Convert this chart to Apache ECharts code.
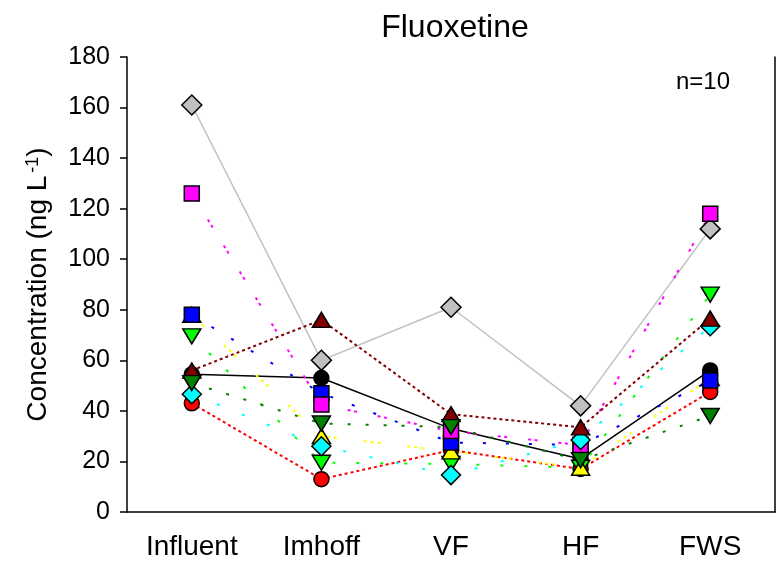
<!DOCTYPE html>
<html>
<head>
<meta charset="utf-8">
<script src="https://cdn.jsdelivr.net/npm/echarts@6/dist/echarts.min.js"></script>
<style>
  html, body { margin: 0; padding: 0; background: #ffffff; }
  #chart { width: 776px; height: 566px; }
</style>
</head>
<body>
<div id="chart"></div>
<script>
// Treatment stages along the system
const stages = ['Influent', 'Imhoff', 'VF', 'HF', 'FWS'];
const yTicks = [0, 20, 40, 60, 80, 100, 120, 140, 160, 180];

// Fluoxetine concentrations (ng/L), one array per sampling campaign
const campaignGray      = [161, 60, 81, 42, 112];
const campaignBlack     = [54.5, 53, 33, 21, 56];
const campaignRed       = [43, 13, 24.5, 17, 47.5];
const campaignLime      = [69.5, 19.5, 19, 17.5, 86];
const campaignYellow    = [78, 30, 24, 17.5, 53];
const campaignBlue      = [78, 47, 27.5, 26.5, 52];
const campaignMagenta   = [126, 42.5, 32, 26.5, 118];
const campaignCyan      = [46.6, 26, 14.6, 28.5, 73.5];
const campaignDarkRed   = [56, 76, 38.7, 33.5, 76.5];
const campaignDarkGreen = [51, 35, 33.6, 20.5, 38];

const FONT = '"Liberation Sans", Arial, Helvetica, sans-serif';

function mk(data, color, symbol, size, rotate, lineType, lineWidth) {
  return {
    type: 'line',
    data: data,
    symbol: symbol,
    symbolSize: size,
    symbolRotate: rotate,
    showAllSymbol: true,
    animation: false,
    itemStyle: { color: color, borderColor: '#000000', borderWidth: 1.5 },
    lineStyle: { color: color, width: lineWidth, type: lineType, cap: 'butt' },
    emphasis: { disabled: true }
  };
}

// later entries are drawn on top of earlier ones
const series = [
  mk(campaignGray,      '#C0C0C0', 'diamond',  [20, 20], 0,   'solid',             1.5),
  mk(campaignBlack,     '#000000', 'circle',   [15, 15], 0,   'solid',             1.5),
  mk(campaignRed,       '#FF0000', 'circle',   [15, 15], 0,   [3, 3],              2),
  mk(campaignLime,      '#00FF00', 'triangle', [18, 15], 180, [3, 21],             2),
  mk(campaignYellow,    '#FFFF00', 'triangle', [18, 15], 0,   [3, 4, 3, 4, 3, 27], 2),
  mk(campaignBlue,      '#0000FF', 'rect',     [15, 15], 0,   [3, 20],             2),
  mk(campaignMagenta,   '#FF00FF', 'rect',     [15, 15], 0,   [3, 3.5, 3, 21],     2),
  mk(campaignCyan,      '#00FFFF', 'diamond',  [19, 19], 0,   [3, 24],             2),
  mk(campaignDarkRed,   '#800000', 'triangle', [18, 15], 0,   [3, 3],              2),
  mk(campaignDarkGreen, '#008000', 'triangle', [18, 15], 180, [3, 15],             2)
];

const chart = echarts.init(document.getElementById('chart'), null, { renderer: 'canvas' });
chart.setOption({
  backgroundColor: '#ffffff',
  animation: false,
  title: {
    text: 'Fluoxetine',
    left: 450,
    top: 7,
    textAlign: 'center',
    textStyle: { fontFamily: FONT, fontSize: 32, fontWeight: 'normal', color: '#000000' }
  },
  grid: { left: 127, right: 1, top: 57, bottom: 54, containLabel: false },
  xAxis: {
    type: 'category',
    data: stages,
    boundaryGap: true,
    axisLine: { lineStyle: { color: '#000000', width: 1.5 } },
    axisTick: { alignWithLabel: true, length: 7, lineStyle: { color: '#000000', width: 1.5 } },
    axisLabel: { color: '#000000', fontFamily: FONT, fontSize: 28, margin: 21 },
    splitLine: { show: false }
  },
  yAxis: [{
    type: 'value',
    min: yTicks[0],
    max: yTicks[yTicks.length - 1],
    interval: 20,
    axisLine: { show: true, lineStyle: { color: '#000000', width: 1.5 } },
    axisTick: { show: true, length: 7, lineStyle: { color: '#000000', width: 1.5 } },
    axisLabel: { color: '#000000', fontFamily: FONT, fontSize: 25, margin: 17 },
    splitLine: { show: false },
    name: '{a|Concentration (ng L}{s|-1}{a|)}',
    nameLocation: 'middle',
    nameGap: 75,
    nameRotate: 90,
    nameTextStyle: {
      rich: {
        a: { fontFamily: FONT, fontSize: 28, color: '#000000' },
        s: { fontFamily: FONT, fontSize: 18, color: '#000000', verticalAlign: 'top', padding: [0, 0, 0, 3] }
      }
    }
  }, {
    type: 'value',
    position: 'right',
    min: 0,
    max: 180,
    interval: 20,
    axisLine: { show: true, lineStyle: { color: '#000000', width: 1.5 } },
    axisTick: { show: false },
    axisLabel: { show: false },
    splitLine: { show: false }
  }],
  graphic: [{
    type: 'text',
    left: 676,
    top: 70,
    style: { text: 'n=10', fontFamily: FONT, fontSize: 24, fill: '#000000' }
  }],
  series: series
});
</script>
</body>
</html>
